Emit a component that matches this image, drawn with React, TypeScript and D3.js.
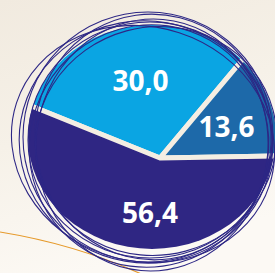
import React from 'react'
import * as d3 from 'd3'

// slices, clockwise from the upper-left
const labels = ['30,0', '13,6', '56,4']
const values = [30.0, 13.6, 56.4]
const colors = ['#0aa5e3', '#1d69a9', '#2f2683']

// hand-drawn rings around the pie: [dx, dy, rx, ry, rotate]
const rings = [
  [0, 0, 122, 118, 0],
  [-4, 2, 127, 121, 10],
  [3, -3, 118, 123, -8],
  [-7, 4, 133, 117, 18],
  [2, 5, 116, 126, 5],
  [6, 1, 121, 114, -15],
  [-2, -3, 125, 125, 0],
  [-1, 6, 119, 122, 30],
]

const W = 275, H = 273

export default function App() {
  // pie vertex and the body shape that clips it
  const vx = 160, vy = 158
  const body = {cx: 152, cy: 137, rx: 124, ry: 112}

  const pie = d3.pie<number>()
    .sort(null)
    .startAngle(-68 * Math.PI / 180)
    .endAngle((360 - 68) * Math.PI / 180)
  const arcs = pie(values)

  const arc = d3.arc<d3.PieArcDatum<number>>()
    .innerRadius(0)
    .outerRadius(220)

  // put each label part way along its mid ray, up to the body edge
  const labelPos = (a: d3.PieArcDatum<number>) => {
    const m = (a.startAngle + a.endAngle) / 2
    const ux = Math.sin(m), uy = -Math.cos(m)
    const px = vx - body.cx, py = vy - body.cy
    const A = (ux * ux) / (body.rx * body.rx) + (uy * uy) / (body.ry * body.ry)
    const B = 2 * ((px * ux) / (body.rx * body.rx) + (py * uy) / (body.ry * body.ry))
    const C = (px * px) / (body.rx * body.rx) + (py * py) / (body.ry * body.ry) - 1
    const t = (-B + Math.sqrt(B * B - 4 * A * C)) / (2 * A)
    return [vx + ux * t * 0.6, vy + uy * t * 0.6]
  }

  return (
    <svg width={W} height={H} style={{position: 'fixed', left: 0, top: 0}}
      fontFamily="'Open Sans', sans-serif">
      <defs>
        <linearGradient id="bg" x1="0" y1="0" x2="0.3" y2="1">
          <stop offset="0" stopColor="#f1eadf"/>
          <stop offset="0.5" stopColor="#f6f1e8"/>
          <stop offset="1" stopColor="#fcf9f4"/>
        </linearGradient>
        <clipPath id="body">
          <ellipse cx={body.cx} cy={body.cy} rx={body.rx} ry={body.ry}/>
        </clipPath>
      </defs>
      <rect width={W} height={H} fill="url(#bg)"/>

      <path d="M0,232 Q80,245 150,278" fill="none" stroke="#e69a2b" strokeWidth={1.2}/>

      <g clipPath="url(#body)">
        <g transform={`translate(${vx},${vy})`}>
          {arcs.map((a, i) =>
            <path key={i} d={arc(a) || ''} fill={colors[i]}
              stroke="#f4eee3" strokeWidth={5} strokeLinejoin="round"/>
          )}
        </g>
      </g>

      <g fill="none" stroke="#2d2785" strokeWidth={1.1}>
        {rings.map((r, i) =>
          <ellipse key={i} cx={150 + r[0]} cy={140 + r[1]} rx={r[2]} ry={r[3]}
            transform={`rotate(${r[4]},${150 + r[0]},${140 + r[1]})`}/>
        )}
      </g>

      {arcs.map((a, i) => {
        const [x, y] = labelPos(a)
        return <text key={i} x={x} y={y} textAnchor="middle" dominantBaseline="central"
          fill="#fff" fontWeight="bold" fontSize={28}>{labels[i]}</text>
      })}
    </svg>
  )
}
